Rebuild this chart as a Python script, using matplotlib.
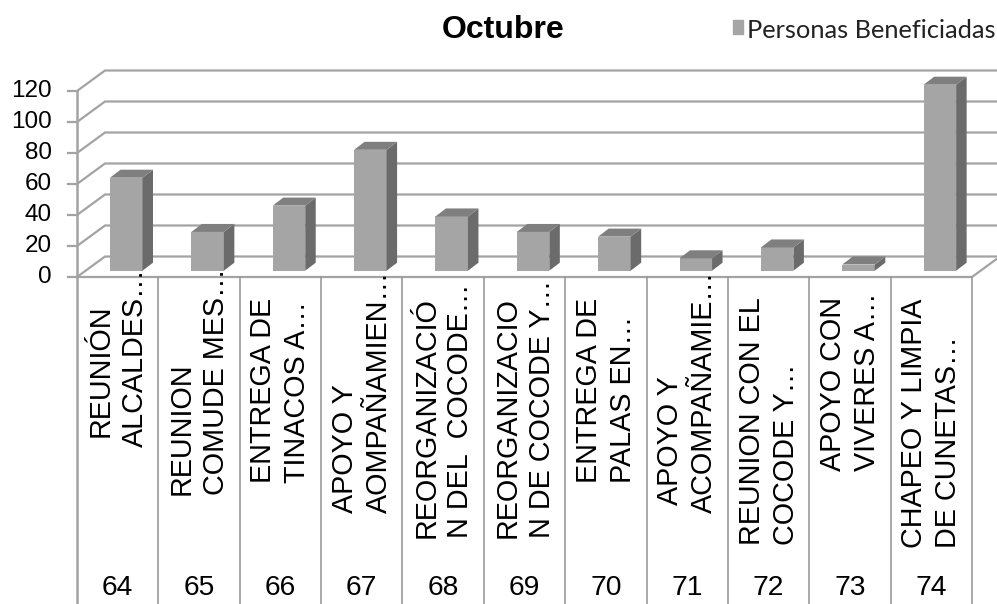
import matplotlib
matplotlib.use('Agg')
import matplotlib.pyplot as plt

# datos
numeros = ['64', '65', '66', '67', '68', '69', '70', '71', '72', '73', '74']
valores = [60, 25, 42, 78, 35, 25, 22, 8, 15, 4, 120]
linea1 = ['REUNIÓN', 'REUNION', 'ENTREGA DE', 'APOYO Y', 'REORGANIZACIÓ', 'REORGANIZACIO',
          'ENTREGA DE', 'APOYO Y', 'REUNION CON EL', 'APOYO CON', 'CHAPEO Y LIMPIA']
linea2 = ['ALCALDES…', 'COMUDE MES…', 'TINACOS A…', 'AOMPAÑAMIEN…', 'N DEL  COCODE…',
          'N DE COCODE Y…', 'PALAS EN…', 'ACOMPAÑAMIE…', 'COCODE Y…', 'VIVERES A…',
          'DE CUNETAS…']
ticks = [0, 20, 40, 60, 80, 100, 120]

W, H = 997, 604
X0, X1 = 77, 972      # plano frontal en pixeles
Y0, Y120 = 277, 91
cat_px = (X1 - X0) / 11
val_px = (Y0 - Y120) / 120

# profundidad del "3D", en unidades de datos
back_dx, back_dy = 28 / cat_px, 20.5 / val_px
bar_dx, bar_dy = 10.5 / cat_px, 8 / val_px
bar_base = 6.3 / val_px
bar_left, bar_w = 33 / cat_px, 32.5 / cat_px

# donde empieza cada rotulo (pixeles desde arriba)
inicio1 = [437, 495, 483, 513, 538, 538, 483, 505, 545, 471, 548]
inicio2 = [447, 495, 483, 513, 538, 538, 483, 513, 545, 471, 548]

GRID = '#a3a3a3'
FRONT = '#a5a5a5'
SIDE = '#6b6b6b'
TOP = '#7f7f7f'
TXT = 'black'

fig = plt.figure(figsize=(W / 100, H / 100), dpi=100)
ax = fig.add_axes([X0 / W, (H - Y0) / H, (X1 - X0) / W, (Y0 - Y120) / H])
ax.set_xlim(0, 11)
ax.set_ylim(0, 120)
ax.axis('off')


def py(p):
    # pixel vertical -> valor
    return (Y0 - p) / val_px


# rejilla
for t in ticks:
    ax.plot([-9 / cat_px, 0, back_dx, 11 + back_dx], [t, t, t + back_dy, t + back_dy],
            color=GRID, lw=1.6, clip_on=False, zorder=1, solid_joinstyle='miter')
ax.plot([0, 0], [py(604), 120], color=GRID, lw=1.8, clip_on=False, zorder=2)
ax.plot([0, 11, 11 + back_dx], [0, 0, back_dy], color=GRID, lw=1.6, clip_on=False, zorder=2)
for i in range(1, 12):
    ax.plot([i, i], [py(604), 0], color='#999999', lw=1.2, clip_on=False, zorder=2)

# barras
for i, v in enumerate(valores):
    xa = i + bar_left
    xb = xa + bar_w
    top = bar_base + v
    ax.bar(xa, v, width=bar_w, bottom=bar_base, align='edge', color=FRONT, clip_on=False, zorder=3)
    ax.fill([xb, xb + bar_dx, xb + bar_dx, xb],
            [bar_base, bar_base + bar_dy, top + bar_dy, top], color=SIDE, lw=0, clip_on=False, zorder=3)
    ax.fill([xa, xb, xb + bar_dx, xa + bar_dx],
            [top, top, top + bar_dy, top + bar_dy], color=TOP, lw=0, clip_on=False, zorder=3)

# textos
for t in ticks:
    ax.text(-25 / cat_px, t, str(t), ha='right', va='center', fontsize=17.5,
            family='Liberation Sans', color=TXT, clip_on=False)
for i in range(11):
    cx = i + 0.5
    ax.text(cx - 17 / cat_px, py(inicio1[i]), linea1[i], rotation=90, ha='center', va='bottom',
            fontsize=20.7, family='Liberation Sans', color=TXT, zorder=5)
    ax.text(cx + 17 / cat_px, py(inicio2[i]), linea2[i], rotation=90, ha='center', va='bottom',
            fontsize=20.7, family='Liberation Sans', color=TXT, zorder=5)
    ax.text(cx, py(588), numeros[i], ha='center', va='center', fontsize=20.3,
            family='Liberation Sans', color=TXT)

fig.text(503 / W, 1 - 30 / H, 'Octubre', ha='center', va='center', fontsize=23,
         family='Liberation Sans', fontweight='bold', color='black')
fig.patches.append(plt.Rectangle((733 / W, 1 - 34 / H), 10 / W, 14 / H, color=FRONT,
                                 transform=fig.transFigure))
fig.text(747 / W, 1 - 31 / H, 'Personas Beneficiadas', ha='left', va='center', fontsize=18.3,
         family='Lato', color='#222222')

fig.savefig('out.png', dpi=100)
